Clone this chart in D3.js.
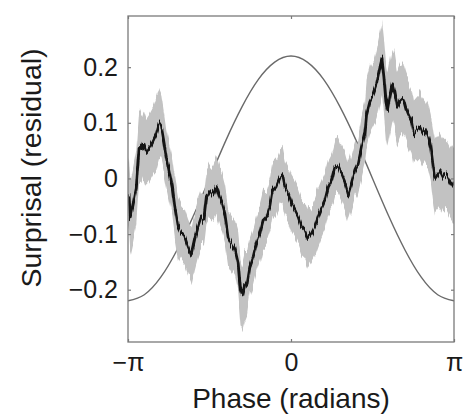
<html lang="en">
<head>
  <meta charset="UTF-8">
  <title>Surprisal by phase</title>
  <script src="https://d3js.org/d3.v7.min.js"></script>
  <style>
    body { margin: 0; background: #fff; }
    text { font-family: "Liberation Sans", Arial, sans-serif; fill: #1a1a1a; }
  </style>
</head>
<body>
  <svg id="chart" width="463" height="418"></svg>
  <script>
    // phase in units of pi
    const phase = [-1, -0.994, -0.986, -0.969, -0.949, -0.932, -0.918, -0.904, -0.887, -0.867, -0.846, -0.826, -0.810,
      -0.795, -0.781, -0.765, -0.744, -0.728, -0.713, -0.693, -0.672, -0.652, -0.632, -0.611, -0.591, -0.570,
      -0.550, -0.535, -0.519, -0.498, -0.478, -0.458, -0.437, -0.421, -0.406, -0.386, -0.365, -0.345, -0.324,
      -0.310, -0.298, -0.284, -0.269, -0.253, -0.232, -0.212, -0.191, -0.171, -0.150, -0.130, -0.114, -0.093,
      -0.069, -0.052, -0.038, -0.017, 0.003, 0.024, 0.044, 0.064, 0.085, 0.105, 0.126, 0.146, 0.167, 0.187,
      0.208, 0.228, 0.249, 0.269, 0.290, 0.310, 0.331, 0.351, 0.372, 0.392, 0.412, 0.433, 0.453, 0.464, 0.484,
      0.505, 0.525, 0.546, 0.558, 0.570, 0.582, 0.593, 0.607, 0.623, 0.638, 0.652, 0.668, 0.689, 0.705, 0.720,
      0.740, 0.754, 0.771, 0.791, 0.808, 0.822, 0.842, 0.857, 0.873, 0.883, 0.898, 0.914, 0.934, 0.955, 0.975, 1];

    const surprisal = [-0.040, -0.031, -0.069, -0.046, -0.016, 0.056, 0.050, 0.062, 0.047, 0.056, 0.068, 0.080, 0.098,
      0.092, 0.068, 0.038, 0.008, -0.016, -0.051, -0.087, -0.099, -0.105, -0.123, -0.138, -0.111, -0.087,
      -0.069, -0.075, -0.034, -0.022, -0.028, -0.013, -0.034, -0.046, -0.063, -0.105, -0.117, -0.126, -0.153,
      -0.201, -0.213, -0.195, -0.189, -0.159, -0.141, -0.117, -0.099, -0.075, -0.069, -0.051, -0.022, -0.016,
      0.002, 0.005, -0.016, -0.028, -0.046, -0.057, -0.069, -0.087, -0.093, -0.108, -0.099, -0.087, -0.069, -0.054,
      -0.040, -0.016, -0.004, 0.020, 0.023, 0.008, -0.007, -0.028, -0.007, 0.014, 0.026, 0.056, 0.080, 0.116, 0.140,
      0.152, 0.170, 0.200, 0.215, 0.182, 0.140, 0.122, 0.146, 0.170, 0.152, 0.128, 0.140, 0.146, 0.128, 0.116,
      0.104, 0.080, 0.086, 0.092, 0.080, 0.086, 0.074, 0.056, 0.020, 0.002, 0.008, 0.014, 0.002, 0.008, -0.004, -0.016];

    // half width of the grey band
    const ciHalf = [0.065, 0.065, 0.065, 0.065, 0.065, 0.065, 0.06, 0.06, 0.06, 0.06, 0.06, 0.065, 0.065,
      0.06, 0.055, 0.05, 0.05, 0.05, 0.05, 0.05, 0.05, 0.05, 0.05, 0.05, 0.05, 0.05,
      0.05, 0.05, 0.05, 0.05, 0.05, 0.05, 0.05, 0.05, 0.05, 0.05, 0.05, 0.05, 0.055,
      0.06, 0.06, 0.06, 0.055, 0.05, 0.05, 0.05, 0.05, 0.05, 0.05, 0.05, 0.05, 0.05,
      0.05, 0.05, 0.05, 0.05, 0.05, 0.05, 0.05, 0.05, 0.05, 0.05, 0.05, 0.05, 0.05, 0.05,
      0.05, 0.05, 0.05, 0.05, 0.05, 0.05, 0.05, 0.05, 0.05, 0.05, 0.05, 0.055, 0.055, 0.06, 0.06,
      0.06, 0.065, 0.065, 0.065, 0.065, 0.065, 0.065, 0.065, 0.065, 0.065, 0.06, 0.06, 0.06, 0.06, 0.06,
      0.06, 0.06, 0.06, 0.06, 0.06, 0.06, 0.06, 0.06, 0.065, 0.065, 0.065, 0.065, 0.065, 0.065, 0.065, 0.065];

    // reference oscillation
    const cosPhase = [-1, -0.9, -0.8, -0.7, -0.6, -0.5, -0.4, -0.3, -0.2, -0.1, 0, 0.1, 0.2, 0.3, 0.4, 0.5, 0.6, 0.7, 0.8, 0.9, 1];
    const cosValue = [-0.22, -0.209, -0.178, -0.129, -0.068, 0, 0.068, 0.129, 0.178, 0.209, 0.22, 0.209, 0.178, 0.129, 0.068, 0, -0.068, -0.129, -0.178, -0.209, -0.22];

    const yTicks = [-0.2, -0.1, 0, 0.1, 0.2];
    const xTicks = [-1, 0, 1];
    const xTickLabels = ["\u2212\u03c0", "0", "\u03c0"];

    const svg = d3.select("#chart");
    const margin = { top: 16, right: 9, bottom: 76, left: 128 };
    const width = +svg.attr("width") - margin.left - margin.right;
    const height = +svg.attr("height") - margin.top - margin.bottom;

    const defs = svg.append("defs");
    defs.append("clipPath").attr("id", "plotClip")
      .append("rect").attr("width", width).attr("height", height);

    // jagged look of the original trace
    function jitter(id, freq, scale, seed) {
      const f = defs.append("filter").attr("id", id)
        .attr("filterUnits", "userSpaceOnUse")
        .attr("x", -20).attr("y", -20).attr("width", width + 40).attr("height", height + 40)
        .attr("color-interpolation-filters", "sRGB");
      f.append("feTurbulence").attr("type", "fractalNoise")
        .attr("baseFrequency", freq).attr("numOctaves", 2).attr("seed", seed).attr("result", "noise");
      f.append("feColorMatrix").attr("in", "noise").attr("type", "matrix")
        .attr("values", "0 0 0 0 0.5  0 1 0 0 0  0 0 0 0 0  0 0 0 0 1").attr("result", "map");
      f.append("feDisplacementMap").attr("in", "SourceGraphic").attr("in2", "map")
        .attr("scale", scale).attr("xChannelSelector", "R").attr("yChannelSelector", "G");
    }
    jitter("bandJitter", "0.35 0.01", 22, 4);
    jitter("lineJitter", "0.7 0.02", 12, 7);

    const g = svg.append("g").attr("transform", `translate(${margin.left},${margin.top})`);

    const x = d3.scaleLinear().domain([-1, 1]).range([0, width]);
    const y = d3.scaleLinear().domain([-0.294, 0.292]).range([height, 0]);

    const rows = phase.map((p, i) => ({ p: p, v: surprisal[i], h: ciHalf[i] }));
    const cosRows = cosPhase.map((p, i) => ({ p: p, v: cosValue[i] }));

    const plot = g.append("g").attr("clip-path", "url(#plotClip)");

    // cosine sits under the band
    plot.append("path").datum(cosRows)
      .attr("fill", "none")
      .attr("stroke", "#6a6a6a")
      .attr("stroke-width", 1.4)
      .attr("d", d3.line().x(d => x(d.p)).y(d => y(d.v)).curve(d3.curveNatural));

    plot.append("path").datum(rows)
      .attr("fill", "#c2c2c2")
      .attr("filter", "url(#bandJitter)")
      .attr("d", d3.area().x(d => x(d.p)).y0(d => y(d.v - d.h)).y1(d => y(d.v + d.h)));

    plot.append("path").datum(rows)
      .attr("fill", "none")
      .attr("stroke", "#141414")
      .attr("stroke-width", 2.8)
      .attr("stroke-linejoin", "round")
      .attr("filter", "url(#lineJitter)")
      .attr("d", d3.line().x(d => x(d.p)).y(d => y(d.v)));

    // frame and inward ticks
    const fmt = d3.format(".1~f");
    const axes = [
      g.append("g").call(d3.axisLeft(y).tickValues(yTicks).tickSize(-3).tickPadding(10).tickFormat(fmt)),
      g.append("g").attr("transform", `translate(${width},0)`)
        .call(d3.axisRight(y).tickValues(yTicks).tickSize(-3).tickFormat("")),
      g.append("g").attr("transform", `translate(0,${height})`)
        .call(d3.axisBottom(x).tickValues(xTicks).tickSize(-3).tickPadding(11).tickFormat((d, i) => xTickLabels[i])),
      g.append("g").call(d3.axisTop(x).tickValues(xTicks).tickSize(-3).tickFormat(""))
    ];
    axes.forEach(a => {
      a.select(".domain").remove();
      a.selectAll(".tick line").attr("stroke", "#7a7a7a").attr("stroke-width", 1.2);
      a.selectAll(".tick text").attr("font-size", 25).attr("fill", "#1a1a1a")
        .style("font-family", "'Liberation Sans', Arial, sans-serif");
    });

    g.append("rect")
      .attr("width", width).attr("height", height)
      .attr("fill", "none").attr("stroke", "#7a7a7a").attr("stroke-width", 1.3);

    svg.append("text")
      .attr("transform", `translate(41,${margin.top + 152}) rotate(-90)`)
      .attr("text-anchor", "middle")
      .attr("font-size", 28.5)
      .text("Surprisal (residual)");

    svg.append("text")
      .attr("x", margin.left + width / 2)
      .attr("y", 408)
      .attr("text-anchor", "middle")
      .attr("font-size", 28)
      .text("Phase (radians)");
  </script>
</body>
</html>
